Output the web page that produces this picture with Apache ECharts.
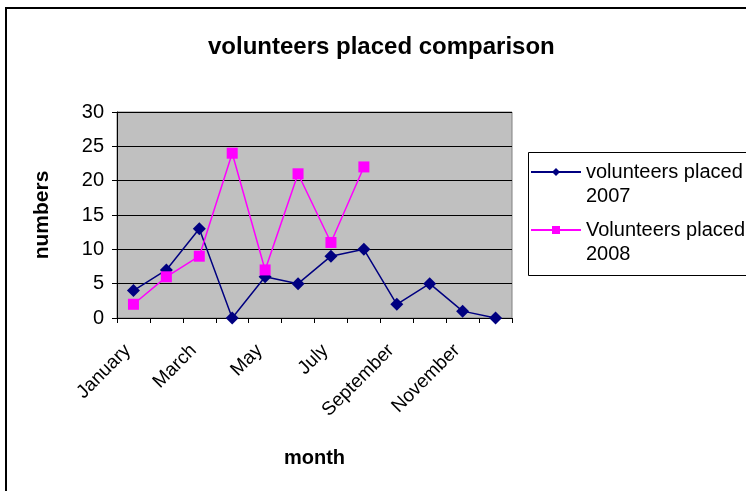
<!doctype html>
<html>
<head>
    <meta charset="utf-8">
    <title>volunteers placed comparison</title>
    <script type="text/javascript" src="https://cdn.jsdelivr.net/npm/echarts@6/dist/echarts.min.js"></script>
    <style>
        html, body { margin: 0; padding: 0; background: #fff; }
        #container { width: 746px; height: 491px; }
    </style>
</head>
<body>
<div id="container"></div>
<script type="text/javascript">
    // data
    var months = ['January', 'February', 'March', 'April', 'May', 'June',
        'July', 'August', 'September', 'October', 'November', 'December'];
    var placed2007 = [4, 7, 13, 0, 6, 5, 9, 10, 2, 5, 1, 0];
    var placed2008 = [2, 6, 9, 24, 7, 21, 11, 22];
    var yTicks = [0, 5, 10, 15, 20, 25, 30];

    var dom = document.getElementById("container");
    var myChart = echarts.init(dom);
    var font = 'Arial, "Liberation Sans", sans-serif';

    var option = {
        animation: false,
        backgroundColor: '#fff',
        title: {
            text: 'volunteers placed comparison',
            left: 203,
            top: 30,
            textStyle: {fontFamily: font, fontSize: 24, fontWeight: 'bold', color: '#000'}
        },
        graphic: [{
            // outer chart frame
            type: 'rect',
            shape: {x: 6, y: 8, width: 800, height: 600},
            style: {fill: 'none', stroke: '#000', lineWidth: 2}
        }, {
            // legend frame
            type: 'rect',
            shape: {x: 528.5, y: 152.5, width: 300, height: 123},
            style: {fill: 'none', stroke: '#000', lineWidth: 1}
        }],
        legend: {
            orient: 'vertical',
            left: 528,
            top: 136,
            padding: [0, 0, 0, 2],
            itemGap: -14,
            itemWidth: 50,
            itemHeight: 10,
            // leading empty line keeps the icon level with the first text line
            formatter: function (name) { return '\n' + name; },
            textStyle: {fontFamily: font, fontSize: 20, color: '#000', lineHeight: 24}
        },
        grid: {
            left: 117,
            right: 234,
            top: 112,
            bottom: 173,
            show: true,
            backgroundColor: '#C0C0C0',
            borderColor: '#808080',
            borderWidth: 1
        },
        xAxis: {
            type: 'category',
            data: months,
            boundaryGap: true,
            name: 'month',
            nameLocation: 'middle',
            nameGap: 130,
            nameTextStyle: {fontFamily: font, fontSize: 20, fontWeight: 'bold', color: '#000'},
            axisLine: {lineStyle: {color: '#000', width: 1}},
            axisTick: {show: true, interval: 0, length: 5, lineStyle: {color: '#000'}},
            axisLabel: {
                interval: 1,
                rotate: 45,
                margin: 24,
                padding: [0, 8, 0, 0],
                fontFamily: font,
                fontSize: 19,
                color: '#000'
            },
            splitLine: {show: false}
        },
        yAxis: {
            type: 'value',
            min: yTicks[0],
            max: yTicks[yTicks.length - 1],
            interval: 5,
            name: 'numbers',
            nameLocation: 'middle',
            nameGap: 64,
            nameRotate: 90,
            nameTextStyle: {fontFamily: font, fontSize: 21, fontWeight: 'bold', color: '#000'},
            axisLine: {show: true, lineStyle: {color: '#000', width: 1}},
            axisTick: {show: true, length: 5, lineStyle: {color: '#000'}},
            axisLabel: {fontFamily: font, fontSize: 20, color: '#000', margin: 13},
            splitLine: {show: true, lineStyle: {color: '#000', width: 1}}
        },
        series: [
            {
                name: 'volunteers placed\n2007',
                type: 'line',
                data: placed2007,
                symbol: 'diamond',
                symbolSize: 13,
                color: '#000080',
                lineStyle: {width: 1.5, color: '#000080'},
                itemStyle: {color: '#000080'}
            },
            {
                name: 'Volunteers placed\n2008',
                type: 'line',
                data: placed2008,
                symbol: 'rect',
                symbolSize: 11,
                color: '#FF00FF',
                lineStyle: {width: 1.5, color: '#FF00FF'},
                itemStyle: {color: '#FF00FF'}
            }
        ]
    };

    if (option && typeof option === "object") {
        myChart.setOption(option, true);
    }
</script>
</body>
</html>
